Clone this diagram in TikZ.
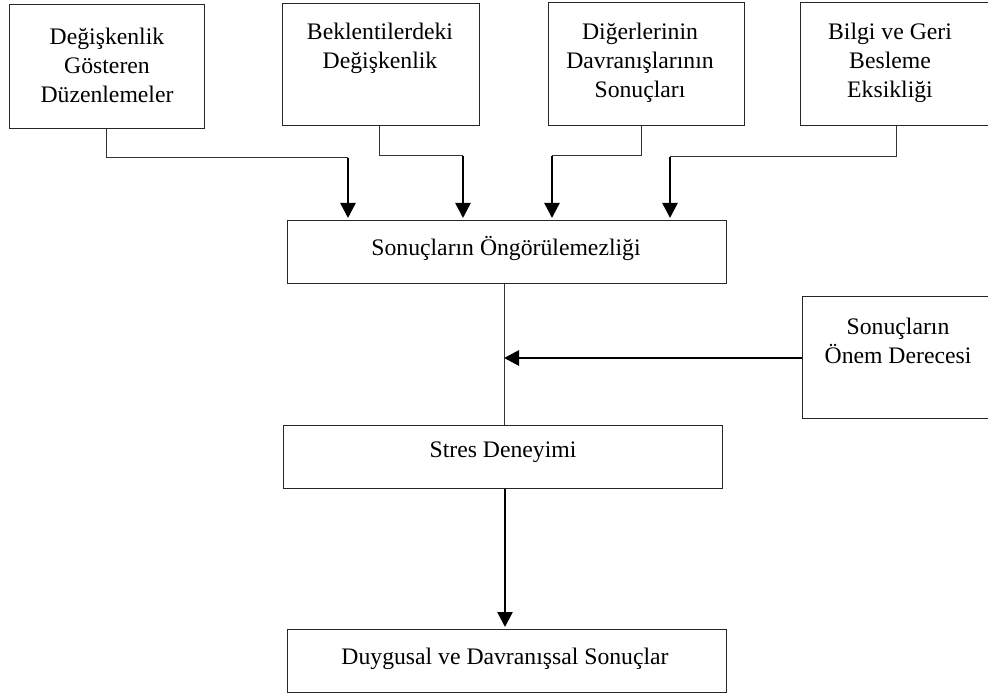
\documentclass[tikz,border=0pt]{standalone}
\usepackage{fontspec}
\setmainfont{Liberation Serif}
\usetikzlibrary{arrows.meta,calc}

\tikzset{
  frame/.style={draw=black!85, line width=0.9pt, rectangle, inner sep=0pt},
  label text/.style={font=\fontsize{23.7}{28.8}\selectfont, align=center, inner sep=0pt, anchor=north},
  feed/.style={draw=black!80, line width=1pt},
  heavy/.style={draw=black, line width=2.5pt, -{Triangle[length=15pt,width=15pt]}, shorten >=2pt},
}

\newcommand{\boxat}[5]{% name, x1, y1, x2, y2
  \node[frame, anchor=north west, minimum width={#4-#2}, minimum height={#5-#3}] (#1) at (#2,#3) {};
}

\begin{document}
\begin{tikzpicture}[x=1pt, y=-1pt]
  \useasboundingbox (0,0) rectangle (988,695);
  \fill[white] (0,0) rectangle (988,695);

  % source boxes along the top
  \boxat{b1}{9}{4}{204}{128}
  \boxat{b2}{282}{3}{479}{125}
  \boxat{b3}{548}{2}{744}{125}
  \boxat{b4}{800}{2}{994}{125}

  % main chain
  \boxat{b5}{287}{220}{726}{283}
  \boxat{b6}{283}{425}{722}{488}
  \boxat{b8}{287}{629}{726}{692}

  % moderating box on the right
  \boxat{b7}{802}{296}{994}{418}

  % box texts
  \node[label text] (t1) at (107,28) {Değişkenlik\\Gösteren\\Düzenlemeler};
  \node[label text] (t2) at (380,23) {Beklentilerdeki\\Değişkenlik};
  \node[label text] (t3) at (640,23) {Diğerlerinin\\Davranışlarının\\Sonuçları};
  \node[label text] (t4) at (890,23) {Bilgi ve Geri\\Besleme\\Eksikliği};
  \node[label text] (t5) at (506,236) {Sonuçların Öngörülemezliği};
  \node[label text] (t6) at (503,442) {Stres Deneyimi};
  \node[label text] (t7) at (898,318) {Sonuçların\\Önem Derecesi};
  \node[label text] (t8) at (505,648) {Duygusal ve Davranışsal Sonuçlar};

  % elbow points where the feeder lines turn down
  \coordinate (c1) at (348,158);
  \coordinate (c2) at (463,156);
  \coordinate (c3) at (552,156);
  \coordinate (c4) at (670,157);
  \coordinate (m) at (504,358);

  % thin feeder lines from the top boxes
  \draw[feed] (b1.south) |- (c1);
  \draw[feed] (b2.south -| 379,0) |- (c2);
  \draw[feed] (b3.south -| 641,0) |- (c3);
  \draw[feed] (b4.south -| 896,0) |- (c4);

  % heavy arrows into the unpredictability box
  \draw[heavy] (c1) -- (b5.north -| c1);
  \draw[heavy] (c2) -- (b5.north -| c2);
  \draw[heavy] (c3) -- (b5.north -| c3);
  \draw[heavy] (c4) -- (b5.north -| c4);

  % vertical link and moderating arrow
  \draw[feed] (b5.south -| m) -- (b6.north -| m);
  \draw[heavy, line width=2.8pt, shorten >=0pt] (b7.west |- m) -- (m);

  % outcome arrow
  \draw[heavy] (b6.south -| 505,0) -- (b8.north -| 505,0);
\end{tikzpicture}
\end{document}
